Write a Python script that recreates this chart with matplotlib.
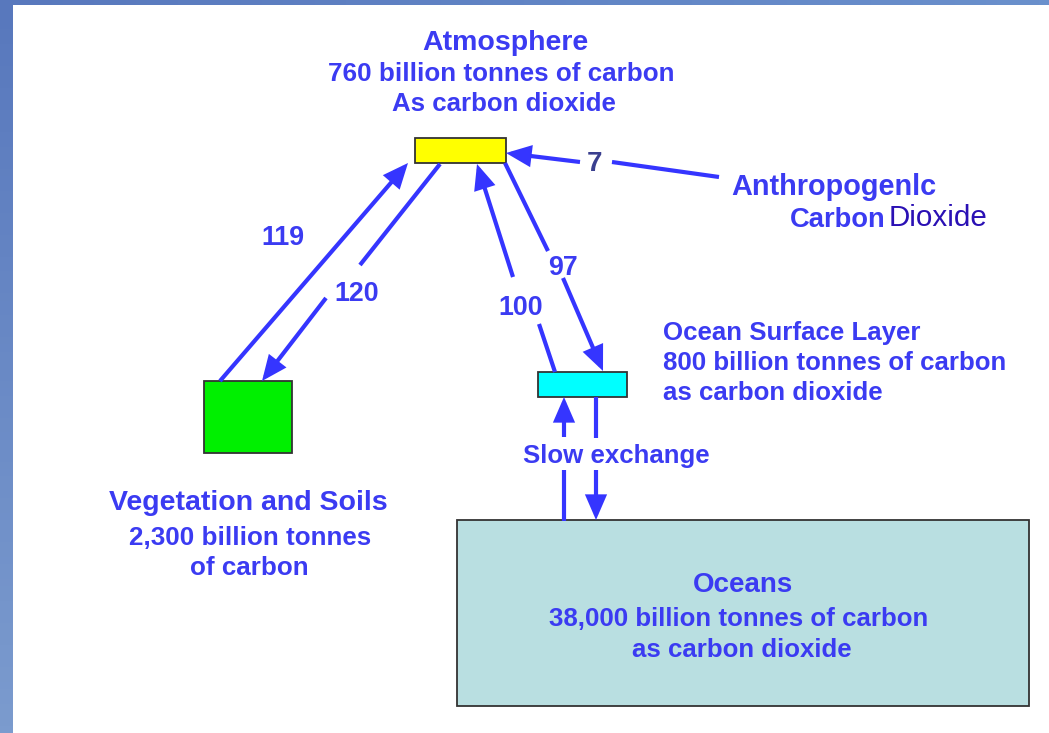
import numpy as np
import matplotlib
matplotlib.use("Agg")
import matplotlib.pyplot as plt
from matplotlib.patches import Rectangle, FancyArrowPatch
from matplotlib.colors import LinearSegmentedColormap

# ---- data ----
reservoirs = ["Atmosphere", "Vegetation and Soils", "Ocean Surface Layer", "Oceans"]
stocks = ["760 billion tonnes of carbon", "2,300 billion tonnes", "800 billion tonnes of carbon",
          "38,000 billion tonnes of carbon"]
flux_labels = ["119", "120", "100", "97", "7"]
slow_label = "Slow exchange"

TXT = "#3b3bf2"
ARR = "#3535ff"
FONT = "Liberation Sans"
DY = 3  # text vertical offset

fig = plt.figure(figsize=(10.49, 7.33), dpi=100)
ax = fig.add_axes([0, 0, 1, 1])
ax.set_xlim(0, 1049)
ax.set_ylim(733, 0)
ax.axis("off")

# background frame strips
grad_v = np.linspace(0, 1, 100).reshape(-1, 1)
cm_v = LinearSegmentedColormap.from_list("v", ["#5878bd", "#7b9bce"])
ax.imshow(grad_v, cmap=cm_v, extent=(0, 13, 733, 0), aspect="auto", zorder=0)
grad_h = np.linspace(0, 1, 100).reshape(1, -1)
cm_h = LinearSegmentedColormap.from_list("h", ["#5878bd", "#6a90cc"])
ax.imshow(grad_h, cmap=cm_h, extent=(0, 1049, 5, 0), aspect="auto", zorder=0)

# boxes (x, y, w, h in pixel space)
boxes = {
    "Atmosphere": ((415, 138, 91, 25), "#ffff00"),
    "Vegetation and Soils": ((204, 381, 88, 72), "#00f000"),
    "Ocean Surface Layer": ((538, 372, 89, 25), "#00ffff"),
    "Oceans": ((457, 520, 572, 186), "#b9dfe1"),
}
for name, ((x, y, w, h), c) in boxes.items():
    ax.add_patch(Rectangle((x, y), w, h, facecolor=c, edgecolor="#333333", lw=1.3, zorder=2))

LW = 3.0


def seg(p0, p1):
    ax.plot([p0[0], p1[0]], [p0[1], p1[1]], color=ARR, lw=LW, solid_capstyle="butt", zorder=3)


def arrow(p0, p1):
    a = FancyArrowPatch(p0, p1, arrowstyle="-|>,head_length=0.6,head_width=0.26", mutation_scale=22,
                        color=ARR, lw=LW, shrinkA=0, shrinkB=0, zorder=3, joinstyle="miter",
                        capstyle="butt")
    ax.add_patch(a)


# 119: vegetation -> atmosphere
arrow((220, 381), (408, 163))
# 120: atmosphere -> vegetation (broken around label)
seg((440, 164), (360, 265))
arrow((326, 298), (262, 381))
# 100: ocean surface -> atmosphere
seg((555, 372), (539, 324))
arrow((513, 277), (477, 164))
# 97: atmosphere -> ocean surface
seg((505, 163), (548, 251))
arrow((563, 278), (603, 371))
# 7: anthropogenic -> atmosphere
seg((719, 177), (612, 162))
arrow((580, 162), (506, 153))
# slow exchange
seg((564, 521), (564, 470))
arrow((564, 437), (564, 397))
seg((596, 397), (596, 438))
arrow((596, 470), (596, 520))

kw = dict(color=TXT, fontweight="bold", family=FONT, zorder=5)


def t(x, y, s, size, ha="center", **k):
    kk = dict(kw)
    kk.update(k)
    ax.text(x, y + DY, s, ha=ha, va="center", fontsize=size, **kk)


# atmosphere
t(505, 40, reservoirs[0], 20.5)
t(501, 71, stocks[0], 18.7)
t(504, 101, "As carbon dioxide", 18.6)
# vegetation
t(248, 500, reservoirs[1], 20.5)
t(250, 535, stocks[1], 18.7)
t(249, 565, "of carbon", 18.7)
# ocean surface
t(663, 330, reservoirs[2], 18.6, ha="left")
t(663, 360, stocks[2], 18.6, ha="left")
t(663, 390, "as carbon dioxide", 18.6, ha="left")
# oceans
t(743, 582, reservoirs[3], 20)
t(739, 616, stocks[3], 18.6)
t(742, 647, "as carbon dioxide", 18.6)
# anthropogenic
t(731, 184, "Anthropogenlc", 20.8, ha="left")
t(886, 217, "Carbon", 19.7, ha="right")
t(889, 215, "Dioxide", 21.3, ha="left", color="#2a10b4", fontweight="normal")
# slow exchange
t(616, 453, slow_label, 18.6)

# flux labels
flux_pos = [(283, 235), (357, 291), (521, 305), (563, 265)]
for lab, (x, y) in zip(flux_labels[:4], flux_pos):
    t(x, y, lab, 19.3)
t(595, 161, flux_labels[4], 20, color="#3a3f8f")

fig.savefig("out.png", dpi=100)
